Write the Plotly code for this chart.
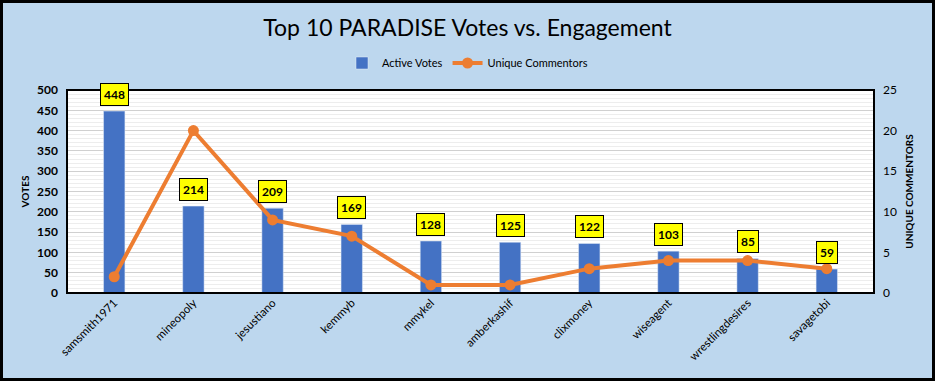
import plotly.graph_objects as go

users = ["samsmith1971", "mineopoly", "jesustiano", "kemmyb", "mmykel",
         "amberkashif", "clixmoney", "wiseagent", "wrestlingdesires", "savagetobi"]
active_votes = [448, 214, 209, 169, 128, 125, 122, 103, 85, 59]
unique_commentors = [2, 20, 9, 7, 1, 1, 3, 4, 4, 3]

FONT = "Lato, Open Sans, sans-serif"
W, H = 935, 381
L, R, T, B = 67, 61, 90, 88
pw, ph = W - L - R, H - T - B

fig = go.Figure()
fig.add_trace(go.Bar(x=users, y=active_votes, name="Active Votes",
                     marker_color="#4472C4", width=0.27, yaxis="y"))
fig.add_trace(go.Scatter(x=users, y=unique_commentors, name="Unique Commentors",
                         mode="lines+markers", yaxis="y2",
                         line=dict(color="#ED7D31", width=4),
                         marker=dict(color="#ED7D31", size=11)))

for u, v in zip(users, active_votes):
    fig.add_annotation(x=u, y=v, yref="y", text=f"<b>{v}</b>", showarrow=False,
                       yanchor="bottom", yshift=5, bgcolor="#FFFF00",
                       bordercolor="black", borderwidth=1, borderpad=3,
                       font=dict(family=FONT, size=12, color="black"))

# outer border of the chart
fig.add_shape(type="rect", xref="paper", yref="paper",
              x0=(-L + 1.5) / pw, x1=(pw + R - 1.5) / pw,
              y0=(-B + 1.5) / ph, y1=(ph + T - 1.5) / ph,
              line=dict(color="black", width=3), layer="below")
# plot area border
fig.add_shape(type="rect", xref="paper", yref="paper", x0=0, x1=1, y0=0, y1=1,
              line=dict(color="black", width=2))

fig.update_layout(
    width=W, height=H,
    margin=dict(l=L, r=R, t=T, b=B, autoexpand=False),
    paper_bgcolor="#BDD7EE", plot_bgcolor="white",
    font=dict(family=FONT, size=12, color="black"),
    title=dict(text="Top 10 PARADISE Votes vs. Engagement", x=0.5, xanchor="center",
               xref="container", y=1 - 28 / H, yref="container", yanchor="middle",
               automargin=False,
               font=dict(family=FONT, size=23, color="black")),
    legend=dict(orientation="h", x=0.5, xanchor="center", xref="container",
                y=1 - 63 / H, yref="container", yanchor="middle",
                font=dict(family=FONT, size=11), bgcolor="rgba(0,0,0,0)",
                traceorder="normal"),
    showlegend=True,
    xaxis=dict(tickangle=-45, showgrid=False, tickfont=dict(family=FONT, size=11.5),
               showline=False, automargin=False),
    yaxis=dict(title=dict(text="<b>VOTES</b>", font=dict(size=10), standoff=5),
               range=[0, 500], dtick=50, gridcolor="#D0D0D0", gridwidth=1,
               minor=dict(dtick=10, showgrid=True, gridcolor="#EDEDED"),
               tickfont=dict(family=FONT, size=12, weight="bold"), zeroline=False,
               automargin=False, ticklabelstandoff=8),
    yaxis2=dict(title=dict(text="<b>UNIQUE COMMENTORS</b>", font=dict(size=10), standoff=10),
                range=[0, 25], dtick=5, overlaying="y", side="right", showgrid=False,
                tickfont=dict(family=FONT, size=12), zeroline=False,
                automargin=False, ticklabelstandoff=8),
)

fig.write_html("out.html", config={"displayModeBar": False},
               post_script="document.body.style.margin='0';")
